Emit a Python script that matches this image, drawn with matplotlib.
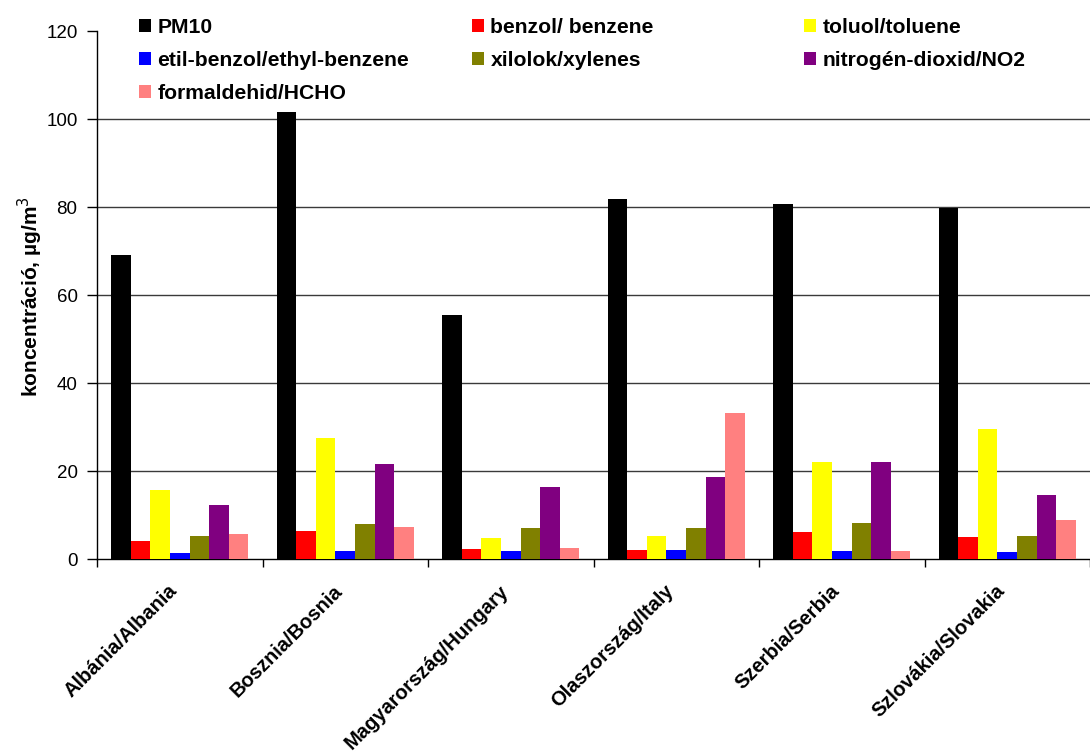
import matplotlib
matplotlib.use("Agg")
import matplotlib.pyplot as plt
import matplotlib.transforms as mtransforms
import numpy as np
from matplotlib.patches import Patch

plt.rcParams['font.family'] = ['Liberation Sans', 'DejaVu Sans']

countries = ["Albánia/Albania", "Bosznia/Bosnia", "Magyarország/Hungary",
             "Olaszország/Italy", "Szerbia/Serbia", "Szlovákia/Slovakia"]
series_names = ["PM10", "benzol/ benzene", "toluol/toluene", "etil-benzol/ethyl-benzene",
                "xilolok/xylenes", "nitrogén-dioxid/NO2", "formaldehid/HCHO"]
colors = ["#000000", "#FF0000", "#FFFF00", "#0000FF", "#808000", "#800080", "#FF8080"]

pm10 = [69.0, 101.5, 55.5, 81.8, 80.6, 79.8]
benzene = [4.2, 6.3, 2.3, 2.0, 6.1, 5.0]
toluene = [15.6, 27.6, 4.7, 5.2, 22.0, 29.5]
ethylbenzene = [1.3, 1.8, 1.8, 2.0, 1.8, 1.5]
xylenes = [5.2, 7.9, 7.1, 7.1, 8.1, 5.2]
no2 = [12.2, 21.6, 16.3, 18.6, 22.0, 14.5]
hcho = [5.7, 7.3, 2.6, 33.1, 1.8, 8.8]
series = [pm10, benzene, toluene, ethylbenzene, xylenes, no2, hcho]

yticks = [0, 20, 40, 60, 80, 100, 120]

fig = plt.figure(figsize=(10.9, 7.54), dpi=100)
ax = fig.add_axes([97/1090, 1-559/754, 1-97/1090, (559-31)/754])

x = np.arange(len(countries))
bw = 0.118
n = len(series)
handles = []
for i, (vals, c, name) in enumerate(zip(series, colors, series_names)):
    offs = (i - (n-1)/2) * bw
    ax.bar(x + offs, vals, width=bw, color=c, edgecolor='none', zorder=3, label=name)
    handles.append(Patch(facecolor=c, edgecolor='none', label=name))

ax.set_xlim(-0.5, -0.5 + 993/168)
ax.set_ylim(0, 120)
ax.set_yticks(yticks)
ax.set_yticklabels([str(t) for t in yticks], fontsize=13.5)
for t in yticks[1:-1]:
    ax.axhline(t, color='#3a3a3a', lw=1.0, zorder=1)

ax.set_xticks(x)
ax.set_xticklabels(countries, rotation=45, ha='right', va='top', rotation_mode='anchor',
                   fontsize=14.5, fontweight='bold')
ax.tick_params(axis='x', which='major', length=0, pad=16)
offset = mtransforms.ScaledTranslation(-12/100, 0, fig.dpi_scale_trans)
for lbl in ax.get_xticklabels():
    lbl.set_transform(lbl.get_transform() + offset)
ax.set_xticks(np.arange(-0.5, len(countries)+0.5, 1), minor=True)
ax.tick_params(axis='x', which='minor', length=6, direction='out', width=1)
ax.tick_params(axis='y', length=7, direction='out', width=1, pad=7)

for side in ['top', 'right']:
    ax.spines[side].set_visible(False)
ax.spines['left'].set_linewidth(1)
ax.spines['bottom'].set_linewidth(1)

ax.set_ylabel("koncentráció, µg/m$^3$", fontsize=15, fontweight='bold')
ax.yaxis.set_label_coords((45-97)/993, (559-297)/528)

# legend: three columns, placed individually
cols = [[0, 3, 6], [1, 4], [2, 5]]
xpos = [139/1090, 472/1090, 804/1090]
for idxs, xp in zip(cols, xpos):
    fig.legend(handles=[handles[k] for k in idxs], loc='upper left',
               bbox_to_anchor=(xp, 1-18/754), frameon=False,
               prop={'weight': 'bold', 'size': 15.2},
               handlelength=0.59, handleheight=0.59, handletextpad=0.28,
               labelspacing=0.67, borderaxespad=0, borderpad=0)

fig.savefig("out.png", dpi=100)
